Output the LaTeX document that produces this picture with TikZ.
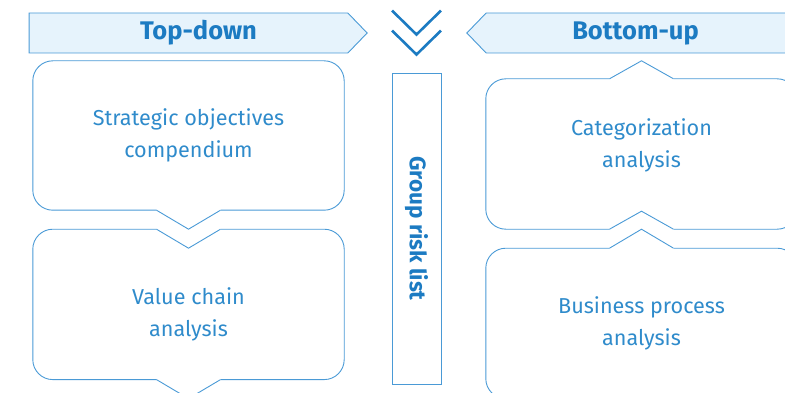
\documentclass[tikz,border=0pt]{standalone}
\usepackage{fontspec}
\setmainfont{Fira Sans}
\usetikzlibrary{positioning,shapes.symbols,calc}

\definecolor{textblue}{HTML}{2F8BCB}
\definecolor{headblue}{HTML}{1C7BC2}
\definecolor{edgeblue}{HTML}{4A9AD6}
\definecolor{bannerfill}{HTML}{E6F3FC}

\tikzset{
	banner/.style={signal, draw=edgeblue, fill=bannerfill, line width=0.9pt,
		minimum width=338pt, minimum height=40pt, inner sep=0pt,
		signal pointer angle=92, text=headblue,
		font=\fontsize{25.5}{28}\selectfont\bfseries},
	stage/.style={minimum width=311pt, inner sep=0pt, align=center,
		text=textblue, font=\fontsize{21.6}{32}\selectfont},
	outline/.style={draw=edgeblue, line width=0.9pt},
	chevron/.style={draw=headblue, line width=2.6pt},
}

\begin{document}
\begin{tikzpicture}[x=1pt, y=-1pt]
\useasboundingbox (0,0) rectangle (785,393);

% Top-down
\node [banner, signal to=east] (topdown) at (188.5,33) {\hspace*{20pt}Top-down};

% Bottom-up
\node [banner, signal to=west] (bottomup) at (645.5,33) {Bottom-up\hspace*{20pt}};

% Strategic objectives
\node [stage, minimum height=149pt] (strategic) at (188.5,135.5) {
Strategic objectives\\
compendium
};

% Value chain
\node [stage, minimum height=131pt, below = 38pt of strategic] (valuechain) {
Value chain\\
analysis
};

% Categorization
\node [stage, minimum height=132pt] (categorization) at (641.5,145) {
Categorization\\
analysis
};

% Business process
\node [stage, minimum height=150pt, below = 37pt of categorization] (business) {
Business process\\
analysis
};

% Group risk list
\node [draw=edgeblue,
	line width=0.9pt,
	minimum width=49pt,
	minimum height=311pt,
	inner sep=0pt,
	text=headblue,
	font=\fontsize{22.5}{26}\selectfont\bfseries
] (risklist) at (416.5,228.5) {\rotatebox{-90}{Group risk list}};

% Chevrons
\draw[chevron] ($(risklist.north)+(-24.5,-62)$) -- ($(risklist.north)+(0,-38)$) -- ($(risklist.north)+(24.5,-62)$);
\draw[chevron] ($(risklist.north)+(-24.5,-42)$) -- ($(risklist.north)+(0,-18)$) -- ($(risklist.north)+(24.5,-42)$);

% Outlines, left column
\draw[outline, rounded corners=20pt] ($(strategic.south)+(32,0)$) -- (strategic.south east) -- (strategic.north east) -- (strategic.north west) -- (strategic.south west) -- ($(strategic.south)+(-32,0)$);
\draw[outline] ($(strategic.south)+(-32,0)$) -- ($(strategic.south)+(0,19)$) -- ($(strategic.south)+(32,0)$);

\draw[outline, rounded corners=20pt] ($(valuechain.north)+(32,-19)$) -- ($(valuechain.north east)+(0,-19)$) -- (valuechain.south east) -- ($(valuechain.south)+(32,0)$);
\draw[outline, rounded corners=20pt] ($(valuechain.north)+(-32,-19)$) -- ($(valuechain.north west)+(0,-19)$) -- (valuechain.south west) -- ($(valuechain.south)+(-32,0)$);
\draw[outline] ($(valuechain.north)+(-32,-19)$) -- (valuechain.north) -- ($(valuechain.north)+(32,-19)$);
\draw[outline] ($(valuechain.south)+(-32,0)$) -- ($(valuechain.south)+(0,19)$) -- ($(valuechain.south)+(32,0)$);

% Outlines, right column
\draw[outline, rounded corners=20pt] ($(categorization.north)+(32,0)$) -- (categorization.north east) -- ($(categorization.south east)+(0,18)$) -- ($(categorization.south)+(32,18)$);
\draw[outline, rounded corners=20pt] ($(categorization.north)+(-32,0)$) -- (categorization.north west) -- ($(categorization.south west)+(0,18)$) -- ($(categorization.south)+(-32,18)$);
\draw[outline] ($(categorization.north)+(-32,0)$) -- ($(categorization.north)+(0,-18)$) -- ($(categorization.north)+(32,0)$);
\draw[outline] ($(categorization.south)+(-32,18)$) -- (categorization.south) -- ($(categorization.south)+(32,18)$);

\draw[outline, rounded corners=20pt] ($(business.north)+(32,0)$) -- (business.north east) -- (business.south east) -- (business.south west) -- (business.north west) -- ($(business.north)+(-32,0)$);
\draw[outline] ($(business.north)+(-32,0)$) -- ($(business.north)+(0,-19)$) -- ($(business.north)+(32,0)$);

\end{tikzpicture}
\end{document}
